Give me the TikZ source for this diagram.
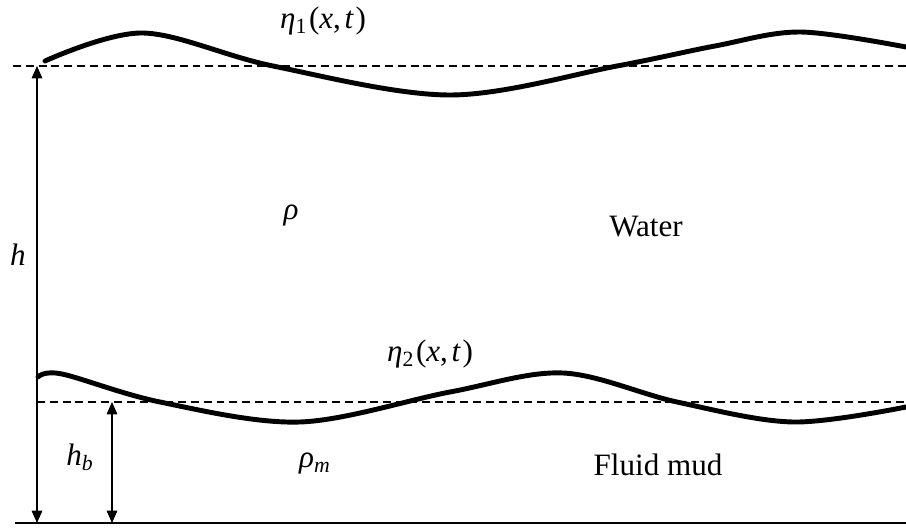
\documentclass[tikz,border=0pt]{standalone}
\usepackage{amssymb, amsmath}
\usepackage{fontspec}
\setmainfont{Liberation Serif}
\usetikzlibrary{arrows.meta}
\newcommand{\mv}[1]{\textit{#1}}
\newcommand{\msub}[1]{\textsubscript{#1}}
\tikzset{
  surface/.style={line width=2.8pt, line cap=round},
  level/.style={line width=0.8pt, dash pattern=on 4.5pt off 2.8pt},
  dim/.style={line width=0.8pt, {Triangle[length=7pt, width=6pt]}-{Triangle[length=7pt, width=6pt]}},
  lbl/.style={font=\fontsize{17.7}{21}\selectfont, inner sep=0pt}
}

\begin{document}
\begin{tikzpicture}[x=0.02cm, y=-0.02cm]
  \useasboundingbox (0, 0) rectangle (906, 530);

  % still water levels and bed
  \draw[level] (13, 66) -- (906, 66);
  \draw[level] (37, 402) -- (906, 402);
  \draw[line width=1.1pt] (15, 523) -- (906, 523);

  % free surface
  \draw[surface] plot[smooth, tension=0.55] coordinates {
      (45, 61) (143, 33) (273, 66) (450, 95) (617, 66) (715, 46)
      (800, 32) (906, 47)};

  % interface
  \draw[surface] plot[smooth, tension=0.55] coordinates {
      (38, 377) (62, 374) (160, 402) (300, 422) (450, 392) (563, 373)
      (677, 402) (793, 422) (906, 407)};

  \coordinate (htop) at (37, 66);
  \coordinate (hbot) at (37, 523);
  \coordinate (hbtop) at (112, 402);
  \coordinate (hbbot) at (112, 523);

  \draw[dim] (htop) -- (hbot);
  \draw[dim] (hbtop) -- (hbbot);

  \node[lbl] (hlbl) at (18, 255) {\mv{h}};
  \node[lbl] (hblbl) at (80, 457) {\mv{h}\msub{\mv{b}}};
  \node[lbl] (eta1) at (323, 21) {\mv{η}\msub{1}\kern1pt(\mv{x},\kern2pt\mv{t}\kern1pt)};
  \node[lbl] (eta2) at (430, 354) {\mv{η}\msub{2}\kern1pt(\mv{x},\kern2pt\mv{t}\kern1pt)};
  \node[lbl] (rho) at (291, 216) {\mv{ρ}};
  \node[lbl] (water) at (646, 227) {Water};
  \node[lbl] (rhom) at (315, 464) {\mv{ρ}\msub{\mv{m}}};
  \node[lbl] (mud) at (658, 465) {Fluid mud};

\end{tikzpicture}
\end{document}
